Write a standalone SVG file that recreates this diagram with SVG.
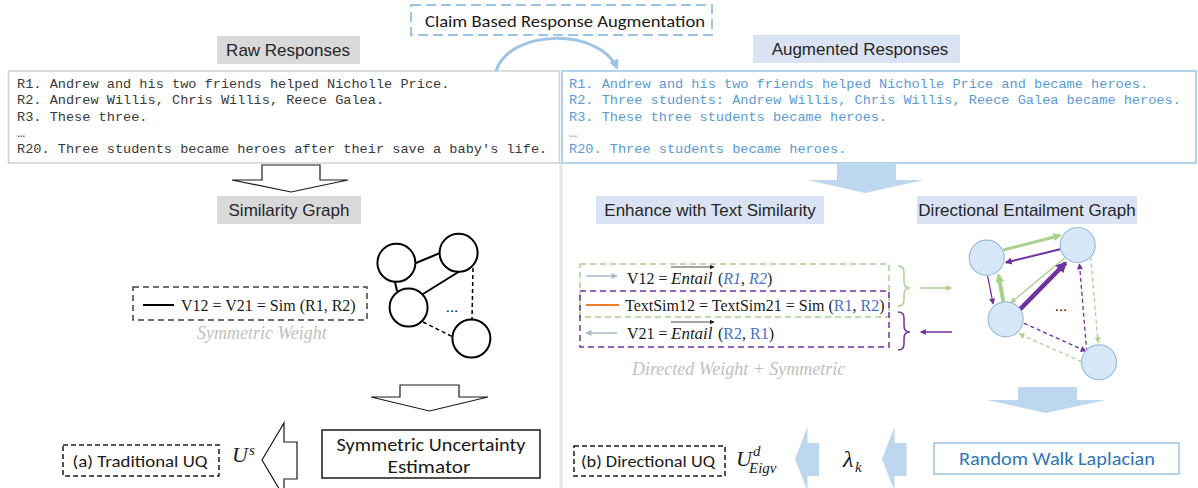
<svg xmlns="http://www.w3.org/2000/svg" width="1198" height="488" viewBox="0 0 1198 488">
<style>
.lbl{font-family:"Liberation Sans",Arial,sans-serif;font-size:17px;fill:#262626;text-anchor:middle;dominant-baseline:central}
.cal{font-family:Carlito,Lato,"Open Sans",sans-serif;fill:#1a1a1a;text-anchor:middle;dominant-baseline:central}
.mono{font-family:"Liberation Mono","Courier New",monospace;font-size:13.6px;dominant-baseline:central}
.ser{font-family:"Liberation Serif","Times New Roman",serif;font-size:16px;fill:#1a1a1a;dominant-baseline:central}
.math{font-family:"Liberation Serif","Times New Roman",serif;font-style:italic;fill:#1a1a1a}
.gbox{fill:#d9d9d9}
.bbox{fill:#dae3f3}
.hollow{fill:#fff;stroke:#1a1a1a;stroke-width:1.2}
.barrow{fill:#bdd7ee}
.node{fill:#fff;stroke:#000;stroke-width:2}
.dnode{fill:#d6e8f7;stroke:#9cbcd8;stroke-width:1.2}
.g{stroke:#a9d18e;fill:none}
.p{stroke:#7030a0;fill:none}
.dash{stroke-dasharray:4 3}
.blue{fill:#4472c4}
</style>
<defs>
<marker id="mGs" viewBox="0 0 10 10" refX="8" refY="5" markerWidth="7" markerHeight="6" orient="auto" markerUnits="userSpaceOnUse"><path d="M0,0 L10,5 L0,10 z" fill="#a9d18e"/></marker>
<marker id="mPs" viewBox="0 0 10 10" refX="8" refY="5" markerWidth="7" markerHeight="6" orient="auto" markerUnits="userSpaceOnUse"><path d="M0,0 L10,5 L0,10 z" fill="#7030a0"/></marker>
<marker id="mGl" viewBox="0 0 10 10" refX="8" refY="5" markerWidth="10" markerHeight="9" orient="auto" markerUnits="userSpaceOnUse"><path d="M0,0 L10,5 L0,10 z" fill="#a9d18e"/></marker>
<marker id="mPl" viewBox="0 0 10 10" refX="8" refY="5" markerWidth="12" markerHeight="11" orient="auto" markerUnits="userSpaceOnUse"><path d="M0,0 L10,5 L0,10 z" fill="#7030a0"/></marker>
<marker id="mPm" viewBox="0 0 10 10" refX="8" refY="5" markerWidth="8" markerHeight="7" orient="auto" markerUnits="userSpaceOnUse"><path d="M0,0 L10,5 L0,10 z" fill="#7030a0"/></marker>
<marker id="mGm" viewBox="0 0 10 10" refX="8" refY="5" markerWidth="9" markerHeight="8" orient="auto" markerUnits="userSpaceOnUse"><path d="M0,0 L10,5 L0,10 z" fill="#a9d18e"/></marker>
<marker id="mGray" viewBox="0 0 10 10" refX="9" refY="5" markerWidth="7" markerHeight="6" orient="auto" markerUnits="userSpaceOnUse"><path d="M0,0 L10,5 L0,10 z" fill="#aab8c8"/></marker>
<marker id="mArc" viewBox="0 0 10 10" refX="8" refY="5" markerWidth="11" markerHeight="10" orient="auto" markerUnits="userSpaceOnUse"><path d="M0,0 L10,5 L0,10 z" fill="#9dc3e6"/></marker>
<marker id="mOver" viewBox="0 0 10 10" refX="9" refY="5" markerWidth="5" markerHeight="5" orient="auto" markerUnits="userSpaceOnUse"><path d="M0,0 L10,5 L0,10 z" fill="#1a1a1a"/></marker>
</defs>

<rect width="1198" height="488" fill="#fff"/>
<line x1="561" y1="163" x2="561" y2="488" stroke="#e7e6e6" stroke-width="3"/>

<g id="claim">
<rect x="411" y="5" width="301" height="30" fill="#fff" stroke="#9dc3e6" stroke-width="2" stroke-dasharray="10 5"/>
<text class="cal" x="565" y="21" font-size="17" textLength="280" lengthAdjust="spacingAndGlyphs">Claim Based Response Augmentation</text>
</g>

<g id="raw-label">
<rect class="gbox" x="217" y="36" width="143" height="28"/>
<text class="lbl" x="288" y="50">Raw Responses</text>
</g>
<g id="aug-label">
<rect class="bbox" x="753" y="35" width="207" height="28"/>
<text class="lbl" x="860" y="49">Augmented Responses</text>
</g>

<g id="raw-box">
<rect x="8.5" y="71" width="551" height="92" fill="#fff" stroke="#cfcfcf" stroke-width="1.5"/>
<g class="mono" fill="#3a3a3a">
<text x="17" y="84.5">R1. Andrew and his two friends helped Nicholle Price.</text>
<text x="17" y="100.5">R2. Andrew Willis, Chris Willis, Reece Galea.</text>
<text x="17" y="117">R3. These three.</text>
<text x="17" y="133">…</text>
<text x="17" y="149.5">R20. Three students became heroes after their save a baby's life.</text>
</g>
</g>

<g id="aug-box">
<rect x="562" y="71" width="634" height="92" fill="#fff" stroke="#9dc3e6" stroke-width="1.5"/>
<g class="mono" fill="#5b9bd5">
<text x="569" y="84.5">R1. Andrew and his two friends helped Nicholle Price and became heroes.</text>
<text x="569" y="100.5">R2. Three students: Andrew Willis, Chris Willis, Reece Galea became heroes.</text>
<text x="569" y="117">R3. These three students became heroes.</text>
<text x="569" y="133">…</text>
<text x="569" y="149.5">R20. Three students became heroes.</text>
</g>
</g>

<g id="connectors">
<path d="M496,71 C510,28 600,28 617,68" fill="none" stroke="#9dc3e6" stroke-width="3" marker-end="url(#mArc)"/>
<polygon class="hollow" points="262,165 320,165 320,180 348,180 291,192 232,180 262,180"/>
<polygon class="hollow" points="400,385 459,385 459,397 488,397 429.5,411 371,397 400,397"/>
<polygon class="hollow" points="262,460 284,423 284,442 297,442 297,479 284,479 284,497"/>
<polygon class="barrow" points="837,163 896,163 896,180 924,180 865,193 807,180 837,180"/>
<polygon class="barrow" points="1018,387 1077,387 1077,400 1106,400 1046,413 987,400 1018,400"/>
<polygon class="barrow" points="795,459 807.5,427 807.5,443 819,443 819,476 807.5,476 807.5,491"/>
<polygon class="barrow" points="882,459 894.5,427 894.5,443 906.6,443 906.6,476 894.5,476 894.5,491"/>
<line x1="920" y1="288" x2="951" y2="288" class="g" stroke-width="1.5" marker-end="url(#mGs)"/>
<line x1="952" y1="332" x2="921" y2="332" class="p" stroke-width="1.5" marker-end="url(#mPs)"/>
</g>

<g id="sim-label">
<rect class="gbox" x="217" y="196" width="144" height="28"/>
<text class="lbl" x="289" y="210">Similarity Graph</text>
</g>

<g id="sym-legend">
<rect x="133" y="287" width="234" height="33" fill="none" stroke="#404040" stroke-width="1.5" stroke-dasharray="6 4"/>
<line x1="143" y1="305" x2="174" y2="305" stroke="#000" stroke-width="2"/>
<text class="ser" x="181" y="305">V12 = V21 = Sim (R1, R2)</text>
<text x="197" y="339" font-family="'Liberation Serif',serif" font-style="italic" font-size="18" fill="#bfbfbf">Symmetric Weight</text>
</g>

<g id="sim-graph">
<line x1="416" y1="263" x2="440" y2="253" stroke="#000" stroke-width="2"/>
<line x1="460" y1="271" x2="423" y2="294" stroke="#000" stroke-width="2"/>
<line x1="394.5" y1="280" x2="397" y2="291" stroke="#000" stroke-width="2"/>
<line x1="473" y1="268" x2="472" y2="320" stroke="#000" stroke-width="1.5" stroke-dasharray="4 3"/>
<line x1="423" y1="322" x2="453" y2="337" stroke="#000" stroke-width="1.5" stroke-dasharray="4 3"/>
<circle class="node" cx="396.4" cy="262.8" r="19"/>
<circle class="node" cx="458.6" cy="252.8" r="19"/>
<circle class="node" cx="408.6" cy="307.5" r="19"/>
<circle class="node" cx="471.4" cy="338.5" r="19"/>
<text x="452" y="306" font-family="'Liberation Sans',sans-serif" font-size="15" fill="#000" text-anchor="middle" dominant-baseline="central">...</text>
</g>

<g id="sym-estimator">
<rect x="322" y="430" width="218" height="48" fill="#fff" stroke="#1a1a1a" stroke-width="1.5"/>
<text class="cal" x="431" y="444" font-size="19" textLength="189" lengthAdjust="spacingAndGlyphs">Symmetric Uncertainty</text>
<text class="cal" x="429" y="466" font-size="19" textLength="83" lengthAdjust="spacingAndGlyphs">Estimator</text>
</g>

<g id="us">
<text class="math" x="232" y="462" font-size="22">U</text>
<text class="math" x="249" y="455" font-size="15">s</text>
</g>

<g id="trad-uq">
<rect x="63" y="445" width="156" height="31" fill="none" stroke="#1a1a1a" stroke-width="1.5" stroke-dasharray="5 3"/>
<text class="cal" x="140" y="461" font-size="17" textLength="135" lengthAdjust="spacingAndGlyphs">(a) Traditional UQ</text>
</g>

<g id="enhance-label">
<rect class="bbox" x="596" y="196" width="228" height="28"/>
<text class="lbl" x="710" y="210">Enhance with Text Similarity</text>
</g>
<g id="deg-label">
<rect class="bbox" x="917" y="196" width="220" height="28"/>
<text class="lbl" x="1027" y="210">Directional Entailment Graph</text>
</g>

<g id="dir-legend">
<rect x="580" y="264" width="309" height="53" fill="none" stroke="#a9d18e" stroke-width="1.5" stroke-dasharray="6 4"/>
<rect x="580" y="291" width="309" height="56" fill="none" stroke="#7030a0" stroke-width="1.5" stroke-dasharray="6 4"/>
<line x1="586" y1="276" x2="617" y2="276" stroke="#aab8c8" stroke-width="1.5" marker-end="url(#mGray)"/>
<text class="ser" x="627" y="278">V12 =</text>
<text class="math" x="671" y="284" font-size="17">Entail</text>
<line x1="671" y1="267" x2="714" y2="267" stroke="#1a1a1a" stroke-width="0.8" marker-end="url(#mOver)"/>
<text class="ser" x="718" y="278">(<tspan class="blue" font-style="italic">R1</tspan>, <tspan class="blue" font-style="italic">R2</tspan>)</text>
<line x1="586" y1="305" x2="619" y2="305" stroke="#ed7d31" stroke-width="2"/>
<text class="ser" x="625" y="305">TextSim12 = TextSim21 = Sim (<tspan class="blue">R1</tspan>, <tspan class="blue">R2</tspan>)</text>
<line x1="617" y1="333" x2="586" y2="333" stroke="#aab8c8" stroke-width="1.5" marker-end="url(#mGray)"/>
<text class="ser" x="627" y="333">V21 =</text>
<text class="math" x="671" y="339" font-size="17">Entail</text>
<line x1="671" y1="322" x2="714" y2="322" stroke="#1a1a1a" stroke-width="0.8" marker-end="url(#mOver)"/>
<text class="ser" x="718" y="333">(<tspan class="blue">R2</tspan>, <tspan class="blue">R1</tspan>)</text>
<path class="g" stroke-width="1.5" d="M898,266 Q904,266 904,272 L904,282 Q904,288 910,288 Q904,288 904,294 L904,300 Q904,306 898,306"/>
<path class="p" stroke-width="1.5" d="M898,312 Q904,312 904,318 L904,326 Q904,332 910,332 Q904,332 904,338 L904,344 Q904,350 898,350"/>
<text x="632" y="375" font-family="'Liberation Serif',serif" font-style="italic" font-size="18" fill="#bfbfbf">Directed Weight + Symmetric</text>
</g>

<g id="deg-graph">
<line class="g" stroke-width="3" x1="1003.3" y1="250" x2="1060" y2="235.5" marker-end="url(#mGm)"/>
<line class="p" stroke-width="2" x1="1060" y1="249.3" x2="1006" y2="262.5" marker-end="url(#mPm)"/>
<line class="g" stroke-width="4" x1="1003.3" y1="301.7" x2="998.5" y2="275" marker-end="url(#mGl)"/>
<line class="p" stroke-width="1.3" x1="987.7" y1="276" x2="993" y2="303.5" marker-end="url(#mPs)"/>
<line class="g" stroke-width="1.3" x1="1068.3" y1="255" x2="1011" y2="302.5" marker-end="url(#mGs)"/>
<line class="p" stroke-width="4.5" x1="1020" y1="309.3" x2="1065.5" y2="263" marker-end="url(#mPl)"/>
<line class="g dash" stroke-width="1.3" x1="1090.7" y1="256.7" x2="1098" y2="342" marker-end="url(#mGs)"/>
<line class="p dash" stroke-width="1.3" x1="1086.7" y1="351.7" x2="1079.5" y2="264.5" marker-end="url(#mPs)"/>
<line class="p dash" stroke-width="1.3" x1="1024" y1="323.3" x2="1085.5" y2="351" marker-end="url(#mPs)"/>
<line class="g dash" stroke-width="1.3" x1="1081.7" y1="361.7" x2="1019.5" y2="334" marker-end="url(#mGs)"/>
<circle class="dnode" cx="986.7" cy="257.7" r="17.5"/>
<circle class="dnode" cx="1077.7" cy="245" r="17.5"/>
<circle class="dnode" cx="1005.7" cy="319.3" r="17.5"/>
<circle class="dnode" cx="1099" cy="362.3" r="17.5"/>
<text x="1061" y="305" font-family="'Liberation Sans',sans-serif" font-size="15" fill="#000" text-anchor="middle" dominant-baseline="central">...</text>
</g>

<g id="rwl">
<rect x="934" y="443" width="245" height="31" fill="#fff" stroke="#9dc3e6" stroke-width="1.5"/>
<text class="cal" x="1057" y="458.5" font-size="19" style="fill:#2e75b6" textLength="196" lengthAdjust="spacingAndGlyphs">Random Walk Laplacian</text>
</g>

<g id="lambda">
<text class="math" x="843" y="467" font-size="24">λ</text>
<text class="math" x="855" y="472" font-size="15">k</text>
</g>

<g id="ud">
<text class="math" x="736" y="466" font-size="22">U</text>
<text class="math" x="753" y="456" font-size="15">d</text>
<text class="math" x="749" y="473" font-size="15">Eigv</text>
</g>

<g id="dir-uq">
<rect x="574" y="446" width="151" height="30" fill="none" stroke="#1a1a1a" stroke-width="1.5" stroke-dasharray="5 3"/>
<text class="cal" x="648" y="461" font-size="17" textLength="134" lengthAdjust="spacingAndGlyphs">(b) Directional UQ</text>
</g>
</svg>
